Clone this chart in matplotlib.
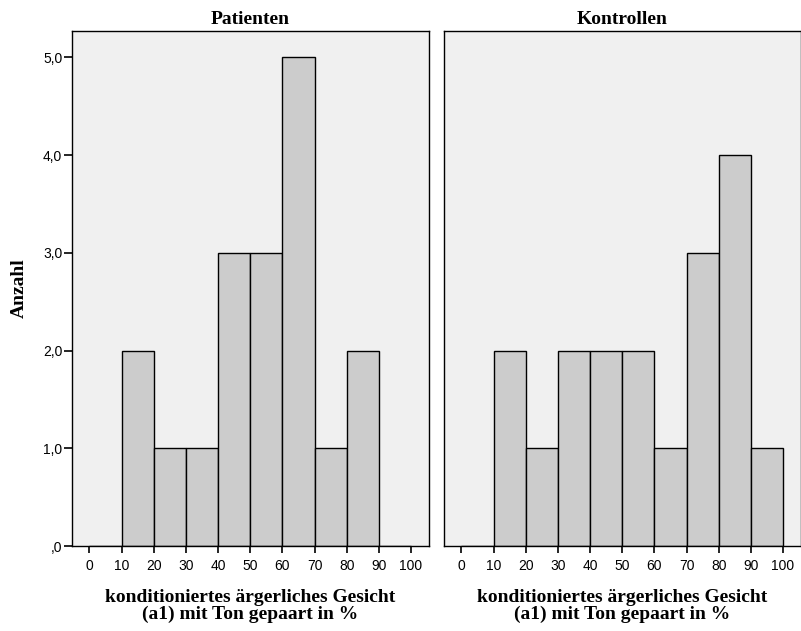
import matplotlib
matplotlib.use('Agg')
import matplotlib.pyplot as plt
from matplotlib.ticker import FixedLocator, FuncFormatter

# histogram bins (left edges, width 10) and counts per group
bin_edges = [0, 10, 20, 30, 40, 50, 60, 70, 80, 90, 100]
patienten = [0, 2, 1, 1, 3, 3, 5, 1, 2, 0]
kontrollen = [0, 2, 1, 2, 2, 2, 1, 3, 4, 1]
panel_titles = ['Patienten', 'Kontrollen']
x_ticks = [0, 10, 20, 30, 40, 50, 60, 70, 80, 90, 100]
y_ticks = [0, 1, 2, 3, 4, 5]
xlabel = 'konditioniertes ärgerliches Gesicht\n(a1) mit Ton gepaart in %'
ylabel = 'Anzahl'

serif = ['Liberation Serif', 'DejaVu Serif']
sans = ['Liberation Sans', 'DejaVu Sans']


def fmt_y(v, pos):
    s = '%.1f' % v
    s = s.replace('.', ',')
    if s.startswith('0,'):
        s = s[1:]
    return s


fig = plt.figure(figsize=(8.01, 6.31), dpi=100)
W, H = 801, 631
boxes = [(72, 31, 429, 546), (444, 31, 801, 546)]

for i, (counts, title) in enumerate(zip([patienten, kontrollen], panel_titles)):
    x0, y0, x1, y1 = boxes[i]
    ax = fig.add_axes([x0 / W, (H - y1) / H, (x1 - x0) / W, (y1 - y0) / H])
    ax.set_facecolor('#f0f0f0')
    lefts = bin_edges[:-1]
    ax.bar(lefts, counts, width=10, align='edge', color='#cccccc',
           edgecolor='black', linewidth=1.0)
    ax.set_xlim(-5.4, 105.6)
    ax.set_ylim(0, 5.27)
    for sp in ax.spines.values():
        sp.set_linewidth(1.0)
        sp.set_color('black')

    ax.xaxis.set_major_locator(FixedLocator(x_ticks))
    ax.tick_params(axis='x', direction='out', length=5, width=1.2,
                   pad=4, labelsize=10)
    for lab in ax.get_xticklabels():
        lab.set_family(sans)

    ax.set_xlabel(xlabel, family=serif, fontweight='bold', fontsize=14,
                  linespacing=1.0, labelpad=12)
    ax.set_title(title, family=serif, fontweight='bold', fontsize=14, pad=5)

    if i == 0:
        ax.yaxis.set_major_locator(FixedLocator(y_ticks))
        ax.yaxis.set_major_formatter(FuncFormatter(fmt_y))
        ax.tick_params(axis='y', direction='out', length=6, width=1.2,
                       pad=1, labelsize=10)
        for lab in ax.get_yticklabels():
            lab.set_family(sans)
        ax.set_ylabel(ylabel, family=serif, fontweight='bold', fontsize=14,
                      labelpad=11)
    else:
        ax.set_yticks([])

fig.savefig('out.png', dpi=100, facecolor='white')
